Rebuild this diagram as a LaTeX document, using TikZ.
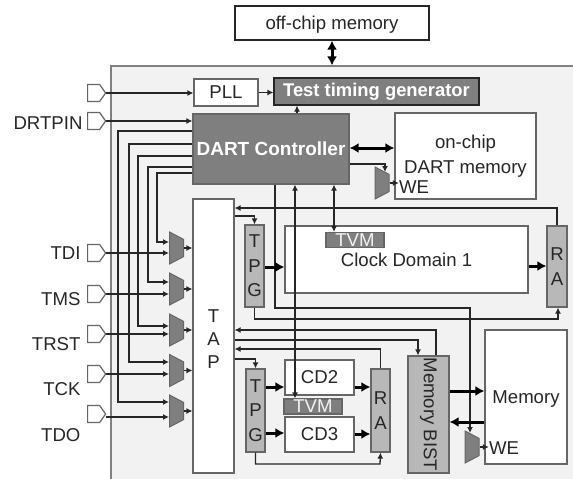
\documentclass[tikz,border=0pt]{standalone}
\usepackage{fontspec}
\setmainfont{Liberation Sans}
\usetikzlibrary{arrows.meta,shapes.geometric,shapes.symbols}
\definecolor{bggray}{HTML}{F2F2F2}
\definecolor{edgegray}{HTML}{666666}
\definecolor{darkgray}{HTML}{7F7F7F}
\definecolor{midgray}{HTML}{B8B8B8}
\definecolor{wire}{HTML}{262626}
\begin{document}
\begin{tikzpicture}[x=1pt, y=-1pt, every node/.style={font=\fontsize{18.6}{24.5}\selectfont, text=wire, align=center}]
\tikzstyle{blk} = [draw=edgegray, line width=1.2pt, fill=white, inner sep=0pt]
\tikzstyle{dark} = [blk, fill=darkgray, text=white, font=\fontsize{18.4}{24.5}\selectfont\bfseries]
\tikzstyle{tvm} = [blk, fill=darkgray, text=bggray, minimum width=58pt, minimum height=15pt]
\tikzstyle{lite} = [blk, fill=midgray]
\tikzstyle{mux} = [draw=edgegray, line width=1pt, fill=darkgray, trapezium, shape border rotate=270, trapezium angle=67, trapezium stretches=true, minimum width=32pt, minimum height=14pt, inner sep=1pt]
\tikzstyle{pin} = [draw=edgegray, line width=1.2pt, fill=white, signal, signal to=east, signal from=nowhere, signal pointer angle=110, anchor=west, minimum width=18pt, minimum height=17pt, inner sep=0pt]
\tikzstyle{e} = [draw=wire, line width=1.3pt, ->, >={Latex[length=6pt,width=6pt]}]
\tikzstyle{bus} = [draw=black, line width=3pt, ->, >={Latex[length=9pt,width=10pt]}]

\useasboundingbox (0,0) rectangle (573,479);

\node[draw=gray, line width=1.2pt, fill=bggray, minimum width=470pt, minimum height=420pt] (chip) at (346,276) {};

\node[blk, draw=wire, minimum width=194pt, minimum height=34pt, text depth=0pt] (off) at (332,23) {off-chip memory};
\node[blk, minimum width=64pt, minimum height=27pt] (pll) at (226,92.5) {PLL};
\node[dark, draw=wire, minimum width=205pt, minimum height=27pt] (ttg) at (376.5,91.5) {Test timing generator};
\node[dark, minimum width=156pt, minimum height=70pt, font=\fontsize{19}{24}\selectfont\bfseries] (dart) at (271,149) {DART Controller};
\node[blk, minimum width=141pt, minimum height=86pt] (ocm) at (465.5,156) {on-chip\\DART memory};
\node[blk, minimum width=41pt, minimum height=274pt] (tap) at (213.5,336) {\rule{0pt}{18pt}T\\[-1.5pt]A\\[-1.5pt]P};
\node[lite, minimum width=19pt, minimum height=82pt] (tpga) at (254.5,266) {T\\P\\G};
\node[blk, minimum width=243pt, minimum height=67pt] (cda) at (406.5,259.5) {Clock Domain 1};
\node[tvm] (tvma) at (355,240) {TVM};
\node[lite, minimum width=20pt, minimum height=81pt] (raa) at (557,266.5) {R\\A};
\node[lite, minimum width=117pt, minimum height=41pt, rotate=-90] (bist) at (428.5,414.5) {Memory BIST};
\node[blk, minimum width=82pt, minimum height=134pt, text depth=0pt] (mem) at (526,397) {Memory};
\node[lite, minimum width=19pt, minimum height=83pt] (tpgb) at (255.5,410.5) {T\\P\\G};
\node[blk, minimum width=69pt, minimum height=35pt] (cdb) at (319.5,377.5) {CD2};
\node[tvm] (tvmb) at (313,406.5) {TVM};
\node[blk, minimum width=69pt, minimum height=35pt] (cdc) at (319.5,434.5) {CD3};
\node[lite, minimum width=19pt, minimum height=83pt] (rab) at (380.5,410.5) {R\\A};

\node[mux] (wea) at (382,183) {};
\node[mux] (web) at (472,447) {};
\node[mux] (muxa) at (176.5,248) {};
\node[mux] (muxb) at (176.5,289) {};
\node[mux] (muxc) at (176.5,330) {};
\node[mux] (muxd) at (176.5,370.5) {};
\node[mux] (muxe) at (176.5,411) {};
\node[inner sep=0pt] (lwea) at (414,187) {WE};
\node[inner sep=0pt] (lweb) at (504,448) {WE};

\node[pin] (pinp) at (87,93) {};
\node[pin] (pinq) at (87,121) {};
\node[pin] (pina) at (87,253) {};
\node[pin] (pinb) at (87,294) {};
\node[pin] (pinc) at (87,334) {};
\node[pin] (pind) at (87,374) {};
\node[pin] (pine) at (87,414) {};
\node[anchor=east] (ldrt) at (86,123) {DRTPIN};
\node[anchor=east] (ltdi) at (84,253) {TDI};
\node[anchor=east] (ltms) at (84,299) {TMS};
\node[anchor=east] (ltrst) at (84,344) {TRST};
\node[anchor=east] (ltck) at (84,389) {TCK};
\node[anchor=east] (ltdo) at (84,435) {TDO};

\coordinate (wein) at (385,172);
\coordinate (wemem) at (470,433);

\draw[bus, <->] (off.south) to (chip.north -| off.south);
\draw[e] (pinp.east) to (pll.west |- pinp.east);
\draw[e] (pll.east) to (ttg.west |- pll.east);
\draw[e] (pinq.east) to (dart.west |- pinq.east);
\draw[e] (dart.north -| 297,0) to (ttg.south -| 297,0);
\draw[bus, <->] (dart.east |- 0,148) to (ocm.west |- 0,148);
\draw[e] (dart.east |- 0,164) -| (wein);
\draw[e] (wea.east) to (lwea.west |- wea.east);

% controller lines down to the muxes
\draw[e] (dart.west |- 0,131) -- (118,131) |- (muxe.west |- 0,402);
\draw[e] (dart.west |- 0,144) -- (129,144) |- (muxd.west |- 0,362);
\draw[e] (dart.west |- 0,156) -- (138,156) |- (muxc.west |- 0,326);
\draw[e] (dart.west |- 0,167) -- (148,167) |- (muxb.west |- 0,282);
\draw[e] (dart.west |- 0,173) -- (157,173) |- (muxa.west |- 0,242);
\draw[e] (pina.east) to (muxa.west |- pina.east);
\draw[e] (pinb.east) to (muxb.west |- pinb.east);
\draw[e] (pinc.east) to (muxc.west |- pinc.east);
\draw[e] (pind.east) to (muxd.west |- pind.east);
\draw[e] (pine.east |- 0,417) to (muxe.west |- 0,417);
\draw[e] (muxa.east) to (tap.west |- muxa.east);
\draw[e] (muxb.east) to (tap.west |- muxb.east);
\draw[e] (muxc.east) to (tap.west |- muxc.east);
\draw[e] (muxd.east) to (tap.west |- muxd.east);
\draw[e] (muxe.east) to (tap.west |- muxe.east);

\draw[e, <->] (dart.south -| 295,0) to (tvmb.north -| 295,0);
\draw[e, <->] (dart.south -| 334,0) to (tvma.north -| 334,0);
\draw[e] (dart.south -| 275,0) |- (470,308) -- (wemem);

\draw[e] (raa.north) |- (tap.east |- 0,208);
\draw[e] (tap.east |- 0,216) -| (tpga.north);
\draw[e] (tpga.south) |- (558,319) -- (raa.south -| 558,0);
\draw[bus] (tpga.east |- 0,267) to (cda.west |- 0,267);
\draw[bus] (cda.east |- 0,266) to (raa.west |- 0,266);

\draw[e] (bist.west -| 436,0) |- (tap.east |- 0,330);
\draw[e] (tap.east |- 0,340) -| (bist.west -| 418,0);
\draw[e] (rab.north) |- (tap.east |- 0,349);
\draw[e] (tap.east |- 0,359) -| (tpgb.north);
\draw[e] (tpgb.south) |- (380,464) -- (rab.south);
\draw[bus] (tpgb.east |- 0,387) to (cdb.west |- 0,387);
\draw[bus] (tpgb.east |- 0,433) to (cdc.west |- 0,433);
\draw[bus] (cdb.east |- 0,387) to (rab.west |- 0,387);
\draw[bus] (cdc.east |- 0,434) to (rab.west |- 0,434);
\draw[bus] (bist.north |- 0,391) to (mem.west |- 0,391);
\draw[bus] (mem.west |- 0,422) to (bist.north |- 0,422);
\draw[e] (web.east) to (lweb.west |- web.east);
\end{tikzpicture}
\end{document}
